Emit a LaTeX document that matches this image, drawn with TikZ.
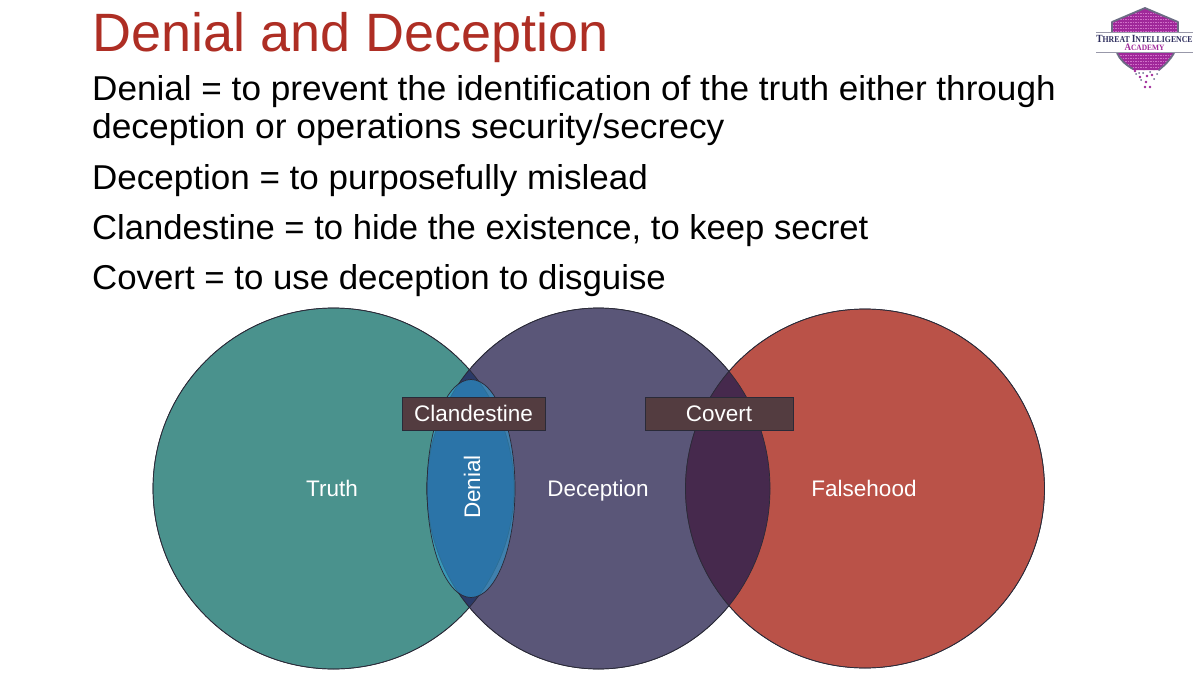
\documentclass[tikz,border=0pt]{standalone}
\usepackage{graphicx}
\usepackage{fontspec}
\setmainfont{Liberation Sans}
\newfontfamily\logofont{Liberation Serif}
\definecolor{titlered}{HTML}{AE2E24}
\definecolor{teal1}{HTML}{4A928D}
\definecolor{decep}{HTML}{5A5678}
\definecolor{fals}{HTML}{BA5248}
\definecolor{navylens}{HTML}{2A3A68}
\definecolor{purplelens}{HTML}{46294D}
\definecolor{denialblue}{HTML}{2D9CD3}
\definecolor{boxbrown}{HTML}{533C40}
\definecolor{edge}{HTML}{2A2A38}
\definecolor{logopurple}{HTML}{A0289A}
\definecolor{logopink}{HTML}{D070C8}
\definecolor{logonavy}{HTML}{2E2E5E}
\definecolor{logogrey}{HTML}{6C6C84}
\tikzset{
  titletext/.style={anchor=base west,inner sep=0pt,text=titlered,font=\fontsize{50}{50}\selectfont},
  bodytext/.style={anchor=base west,inner sep=0pt,text=black,font=\fontsize{34.5}{34.5}\selectfont},
  venntext/.style={inner sep=0pt,text=white,font=\fontsize{22.5}{22.5}\selectfont},
  labelbox/.style={draw=edge,line width=0.7pt,fill=boxbrown,minimum height=33pt,inner sep=0pt,text=white,font=\fontsize{22.5}{22.5}\selectfont},
  vennedge/.style={draw=edge,line width=0.7pt},
  logodot/.style={fill=logopurple,circle,inner sep=0pt,minimum size=2.6pt},
  logodotdark/.style={fill=logonavy!70,circle,inner sep=0pt,minimum size=2pt},
}
\begin{document}
\begin{tikzpicture}[x=1pt,y=-1pt]
\useasboundingbox (0,0) rectangle (1200,675);
\fill[white] (0,0) rectangle (1200,675);

% text
\node[titletext] (title) at (92,51) {\scalebox{1.08}{Denial and Deception}};
\node[bodytext] (l1) at (92,100) {\scalebox{1.018}[1]{Denial = to prevent the identification of the truth either through}};
\node[bodytext] (l2) at (92,138) {\scalebox{1.024}[1]{deception or operations security/secrecy}};
\node[bodytext] (l3) at (92,189) {\scalebox{1.015}[1]{Deception = to purposefully mislead}};
\node[bodytext] (l4) at (92,239) {\scalebox{1.003}[1]{Clandestine = to hide the existence, to keep secret}};
\node[bodytext] (l5) at (92,289) {\scalebox{1.009}[1]{Covert = to use deception to disguise}};

% venn
\path[fill=teal1,vennedge] (333.5,488.5) circle [radius=180.5];
\path[fill=decep,vennedge] (598.5,488.5) ellipse [x radius=171.5,y radius=180.5];
\path[fill=fals,vennedge] (865,488.5) circle [radius=179.5];
\begin{scope}
  \clip (333.5,488.5) circle [radius=180.5];
  \fill[navylens] (598.5,488.5) ellipse [x radius=171.5,y radius=180.5];
\end{scope}
\begin{scope}
  \clip (865,488.5) circle [radius=179.5];
  \fill[purplelens] (598.5,488.5) ellipse [x radius=171.5,y radius=180.5];
\end{scope}
\draw[edge,line width=0.7pt] (333.5,488.5) circle [radius=180.5];
\draw[edge,line width=0.7pt] (598.5,488.5) ellipse [x radius=171.5,y radius=180.5];
\draw[edge,line width=0.7pt] (865,488.5) circle [radius=179.5];
\path[fill=denialblue,fill opacity=.6,vennedge] (471,488.5) ellipse [x radius=44,y radius=109];

\node[venntext,anchor=base] (truth) at (332,496) {Truth};
\node[venntext,anchor=base] (deception) at (598,496) {Deception};
\node[venntext,anchor=base] (falsehood) at (864,496) {Falsehood};
\node[venntext,rotate=90] (denial) at (472,487) {Denial};
\node[labelbox,minimum width=143pt] (clandestine) at (473.5,413.5) {Clandestine};
\node[labelbox,minimum width=148pt] (covert) at (719,413.5) {Covert};

% logo
\begin{scope}
  \path[clip] (1145,8) -- (1178,22) -- (1178,33) -- (1174,53) .. controls (1170,60) and (1165,65) .. (1160,70) -- (1133,70) .. controls (1126,65) and (1120,60) .. (1117,53) -- (1112,33) -- (1112,22) -- cycle;
  \fill[logopurple] (1100,0) rectangle (1190,80);
  \foreach \ry in {13,16,19,22,25,28,31,55,58,61,64,67}
    \draw[logopink,line width=0.7pt,dash pattern=on 1.5pt off 1pt] (1100,\ry) -- (1190,\ry);
\end{scope}
\draw[logogrey,line width=1.8pt,line join=round] (1112,33) -- (1112,22) -- (1145,8) -- (1178,22) -- (1178,33);
\draw[logogrey,line width=1.8pt] (1117,53) .. controls (1120,60) and (1126,65) .. (1133,69);
\draw[logogrey,line width=1.8pt] (1174,53) .. controls (1170,60) and (1165,65) .. (1160,69);
\fill[white] (1094,33) rectangle (1195,52);
\draw[logogrey!70,line width=0.9pt] (1096,32.5) -- (1193,32.5) (1096,52.5) -- (1193,52.5);
\foreach \dx/\dy in {1135/71,1144/69,1149/68,1154/69,1140/77,1147/76,1152/75,1146/82,1145/87,1150/87}
  {\node[logodot] at (\dx,\dy) {};}
\foreach \dx/\dy in {1139/73,1136/74,1159/70,1157/74,1143/73,1150/72,1141/80,1154/79}
  {\node[logodotdark] at (\dx,\dy) {};}
\node[inner sep=0pt,text=logonavy,font=\logofont\bfseries\fontsize{9.5}{9.5}\selectfont] (logo1) at (1144.5,38.5) {\scalebox{1}[1.15]{T\fontsize{7.8}{7.8}\selectfont HREAT \fontsize{9.5}{9.5}\selectfont I\fontsize{7.8}{7.8}\selectfont NTELLIGENCE}};
\node[inner sep=0pt,text=logopurple,font=\logofont\bfseries\fontsize{9}{9}\selectfont] (logo2) at (1144.5,47.5) {\scalebox{1}[1.1]{A\fontsize{7.4}{7.4}\selectfont CADEMY}};
\end{tikzpicture}
\end{document}
